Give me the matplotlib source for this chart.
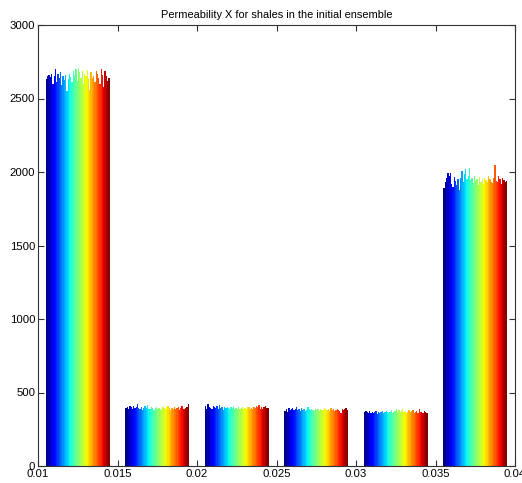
import numpy as np
import matplotlib
matplotlib.use("Agg")
import matplotlib.pyplot as plt

# Bin centres of the histogram (permeability X for shales)
bin_centers = [0.0125, 0.0175, 0.0225, 0.0275, 0.0325, 0.0375]
bin_width = 0.005

# Counts per ensemble member for each bin
bin1 = [2630, 2650, 2660, 2645, 2670, 2600, 2655, 2700, 2610, 2665, 2640, 2680, 2590, 2650, 2625, 2660, 2550, 2630, 2670, 2645,
        2610, 2690, 2660, 2700, 2620, 2710, 2680, 2640, 2690, 2600, 2670, 2650, 2695, 2630, 2560, 2680, 2640, 2655, 2610, 2690,
        2670, 2640, 2600, 2700, 2660, 2580, 2690, 2650, 2620, 2640]
bin2 = [395, 400, 390, 405, 398, 385, 410, 392, 402, 425, 395, 388, 400, 380, 396, 405, 393, 415, 390, 385,
        398, 392, 380, 396, 400, 388, 395, 378, 390, 402, 395, 385, 398, 410, 392, 380, 395, 388, 400, 385,
        392, 398, 380, 395, 410, 390, 385, 395, 400, 420]
bin3 = [405, 390, 420, 400, 395, 385, 410, 398, 392, 405, 388, 415, 395, 400, 383, 398, 392, 402, 395, 386,
        400, 393, 405, 388, 396, 390, 398, 385, 395, 400, 388, 392, 385, 398, 403, 390, 395, 385, 400, 393,
        410, 398, 415, 390, 400, 385, 398, 410, 392, 395]
bin4 = [375, 385, 370, 392, 380, 388, 395, 378, 385, 402, 380, 390, 375, 395, 383, 388, 372, 380, 398, 385,
        378, 390, 382, 375, 388, 380, 385, 372, 390, 383, 378, 395, 385, 380, 388, 375, 392, 380, 385, 372,
        378, 390, 383, 375, 360, 385, 380, 388, 392, 378]
bin5 = [365, 372, 368, 360, 375, 363, 370, 358, 366, 372, 355, 368, 362, 370, 375, 360, 368, 372, 365, 358,
        370, 378, 362, 368, 375, 385, 370, 380, 365, 372, 390, 368, 375, 362, 370, 380, 365, 372, 378, 360,
        368, 375, 362, 388, 370, 365, 358, 372, 366, 362]
bin6 = [1890, 1930, 1960, 1990, 1970, 1995, 1920, 1900, 1965, 1940, 1910, 1955, 1880, 1960, 2010, 1930, 1985, 2020, 1950, 1970,
        2030, 1945, 1960, 1925, 1975, 1940, 1955, 1910, 1965, 1930, 1950, 1920, 1960, 1945, 1935, 1970, 1950, 1930, 1925, 1960,
        2050, 1940, 1930, 1975, 1950, 1920, 1960, 1945, 1930, 1940]

counts = np.array([bin1, bin2, bin3, bin4, bin5, bin6])  # shape (bins, members)
n_members = counts.shape[1]

title = "Permeability X for shales in the initial ensemble"
xticks = [0.01, 0.015, 0.02, 0.025, 0.03, 0.035, 0.04]
xticklabels = ["0.01", "0.015", "0.02", "0.025", "0.03", "0.035", "0.04"]
yticks = [0, 500, 1000, 1500, 2000, 2500, 3000]

plt.rcParams['font.family'] = ['Liberation Sans', 'DejaVu Sans']

fig = plt.figure(figsize=(5.22, 4.83), dpi=100)
ax = fig.add_axes([38 / 522, 1 - 466 / 483, (515 - 38) / 522, (466 - 25) / 483])

group_w = 0.8 * bin_width
bw = group_w / n_members
cmap = plt.get_cmap('jet')
for m in range(n_members):
    color = cmap(m / (n_members - 1))
    xs = np.array(bin_centers) - group_w / 2 + (m + 0.5) * bw
    ax.bar(xs, counts[:, m], width=bw * 1.05, color=color, edgecolor='none', linewidth=0)

ax.set_xlim(0.01, 0.04)
ax.set_ylim(0, 3000)
ax.set_xticks(xticks)
ax.set_xticklabels(xticklabels)
ax.set_yticks(yticks)
ax.set_yticklabels([str(v) for v in yticks])
ax.tick_params(direction='in', length=4, width=0.8, labelsize=8.2, top=True, right=True,
               colors='#333333', labelcolor='black', pad=2)
for s in ax.spines.values():
    s.set_color('#333333')
    s.set_linewidth(0.8)
ax.set_title(title, fontsize=7.9, pad=5)

fig.savefig("out.png", dpi=100)
